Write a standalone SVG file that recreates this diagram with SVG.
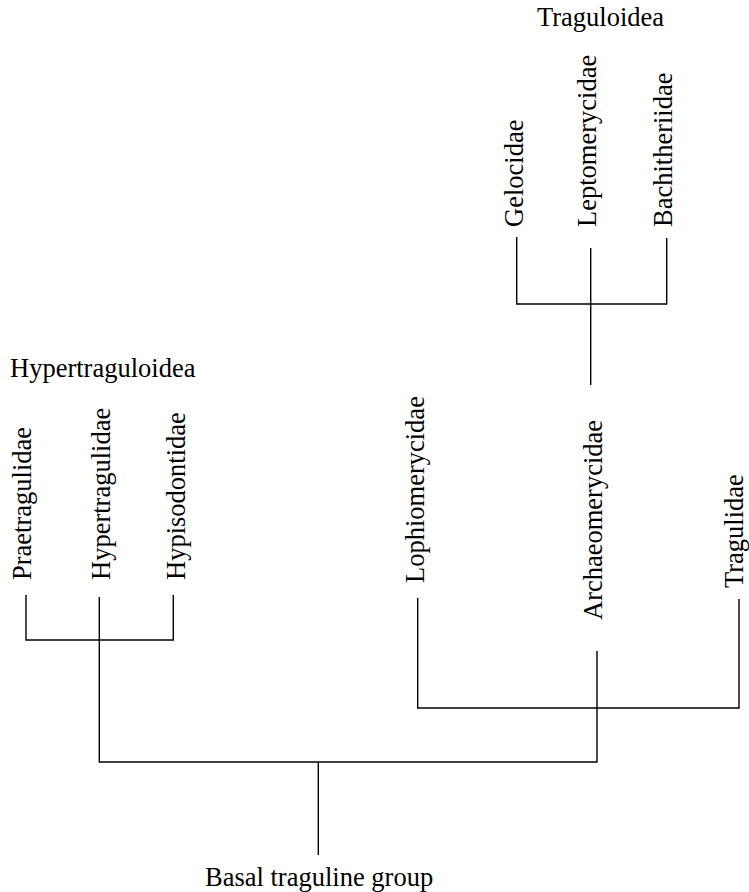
<svg xmlns="http://www.w3.org/2000/svg" width="749" height="892" viewBox="0 0 749 892">
<style>
text{font-family:"Liberation Serif","Times New Roman",serif;font-size:26.5px;fill:#000}
.ln{fill:none;stroke:#000;stroke-width:1.4}
</style>
<rect width="749" height="892" fill="#fff"/>
<g id="connectors">
<path class="ln" d="M26 595V640H173.3V595"/>
<path class="ln" d="M99.3 597V762H597V651"/>
<path class="ln" d="M318.3 762V855"/>
<path class="ln" d="M417.7 598V708H739V599"/>
<path class="ln" d="M516.7 237V304H666.7V238"/>
<path class="ln" d="M590.7 248V385"/>
</g>
<g id="traguloidea"><text x="537" y="26">Traguloidea</text></g>
<g id="hypertraguloidea"><text x="10" y="377">Hypertraguloidea</text></g>
<g id="basal"><text x="205" y="886">Basal traguline group</text></g>
<g id="gelocidae"><text transform="translate(522.5 227) rotate(-90)">Gelocidae</text></g>
<g id="leptomerycidae"><text transform="translate(596 227) rotate(-90)">Leptomerycidae</text></g>
<g id="bachitheriidae"><text transform="translate(671.5 227) rotate(-90)">Bachitheriidae</text></g>
<g id="praetragulidae"><text transform="translate(31 580) rotate(-90)">Praetragulidae</text></g>
<g id="hypertragulidae"><text transform="translate(110 580) rotate(-90)">Hypertragulidae</text></g>
<g id="hypisodontidae"><text transform="translate(185 580) rotate(-90)">Hypisodontidae</text></g>
<g id="lophiomerycidae"><text transform="translate(423.5 583) rotate(-90)">Lophiomerycidae</text></g>
<g id="archaeomerycidae"><text transform="translate(601.5 620) rotate(-90)">Archaeomerycidae</text></g>
<g id="tragulidae"><text transform="translate(742.5 588) rotate(-90)">Tragulidae</text></g>
</svg>
